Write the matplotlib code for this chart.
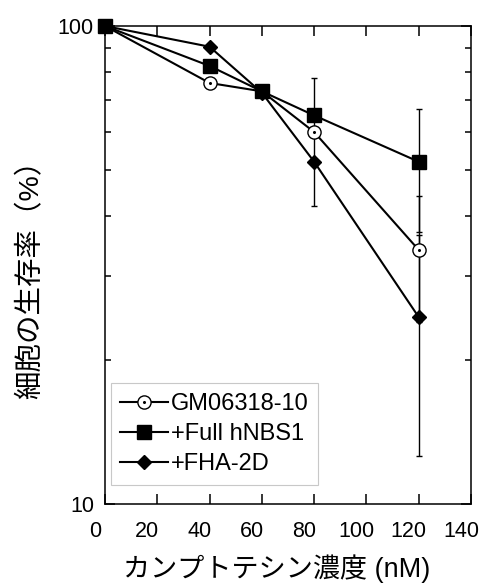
import matplotlib
matplotlib.use("Agg")
import matplotlib.pyplot as plt
import matplotlib.transforms as mtransforms
from matplotlib.ticker import FixedLocator, NullFormatter

plt.rcParams['font.family'] = ['Liberation Sans', 'Noto Sans CJK JP', 'DejaVu Sans']

# camptothecin concentration (nM)
conc = [0, 40, 60, 80, 120]

# survival (%) per cell line
gm_vals = [100, 76, 73, 60, 34]
gm_err = [0, 0, 0, 18, 10]
full_vals = [100, 82.5, 73, 65, 52]
full_err = [0, 0, 0, 0, 15]
fha_vals = [100, 90.5, 72.5, 52, 24.6]
fha_err = [0, 0, 0, 0, 12]

labels = ["GM06318-10", "+Full hNBS1", "+FHA-2D"]
x_ticks = [0, 20, 40, 60, 80, 100, 120, 140]
y_major = [10, 100]
y_minor = [20, 30, 40, 50, 60, 70, 80, 90]

fig = plt.figure(figsize=(4.83, 5.83), dpi=100)
ax = fig.add_axes([0.2174, 0.1355, 0.7578, 0.8199])

err_kw = dict(ecolor='black', elinewidth=1.0, capsize=2.5, capthick=1.0)

# error bars first, behind markers
for vals, err in [(gm_vals, gm_err), (full_vals, full_err), (fha_vals, fha_err)]:
    xs = [c for c, e in zip(conc, err) if e > 0]
    ys = [v for v, e in zip(vals, err) if e > 0]
    es = [e for e in err if e > 0]
    ax.errorbar(xs, ys, yerr=es, fmt='none', zorder=1, **err_kw)

h_gm, = ax.plot(conc, gm_vals, color='black', lw=1.5, marker='o', ms=9.5,
                mfc='white', mec='black', mew=1.0, clip_on=False, zorder=3)
h_dot, = ax.plot(conc, gm_vals, ls='none', marker='o', ms=1.2, color='black',
                 clip_on=False, zorder=3.1)
h_full, = ax.plot(conc, full_vals, color='black', lw=1.5, marker='s', ms=10,
                  mfc='black', mec='black', clip_on=False, zorder=3)
h_fha, = ax.plot(conc, fha_vals, color='black', lw=1.5, marker='D', ms=7,
                 mfc='black', mec='black', clip_on=False, zorder=2.9)

ax.set_yscale('log')
ax.set_xlim(0, 140)
ax.set_ylim(10, 100)

ax.yaxis.set_major_locator(FixedLocator(y_major))
ax.set_yticklabels([str(v) for v in y_major])
ax.yaxis.set_minor_locator(FixedLocator(y_minor))
ax.yaxis.set_minor_formatter(NullFormatter())
ax.set_xticks(x_ticks)
ax.set_xticklabels([str(v) for v in x_ticks])

ax.tick_params(axis='both', which='both', direction='in', top=True, right=True,
               width=1.1, labelsize=15.5, colors='black')
ax.tick_params(axis='x', which='major', length=7, pad=12)
ax.tick_params(axis='y', which='major', length=7, pad=8)
ax.tick_params(axis='y', which='minor', length=4.5)

# tick labels sit a bit left of their ticks in the original
shift = mtransforms.ScaledTranslation(-0.10, 0, fig.dpi_scale_trans)
for lab in ax.get_xticklabels():
    lab.set_transform(lab.get_transform() + shift)

for sp in ax.spines.values():
    sp.set_linewidth(1.1)

ax.set_xlabel("カンプトテシン濃度 (nM)", fontsize=19.5)
ax.xaxis.set_label_coords(0.469, -0.105)
ax.set_ylabel("細胞の生存率（%）", fontsize=20.5)
ax.yaxis.set_label_coords(-0.165, 0.485)

leg = ax.legend([(h_gm, h_dot), h_full, h_fha], labels, loc='lower left',
                bbox_to_anchor=(0.016, 0.04), borderaxespad=0, fontsize=17,
                fancybox=False, framealpha=1, edgecolor='#c8c8c8',
                handlelength=2.0, handletextpad=0.15, labelspacing=0.35,
                borderpad=0.4)
leg.get_frame().set_linewidth(0.8)

fig.savefig("out.png", dpi=100)
